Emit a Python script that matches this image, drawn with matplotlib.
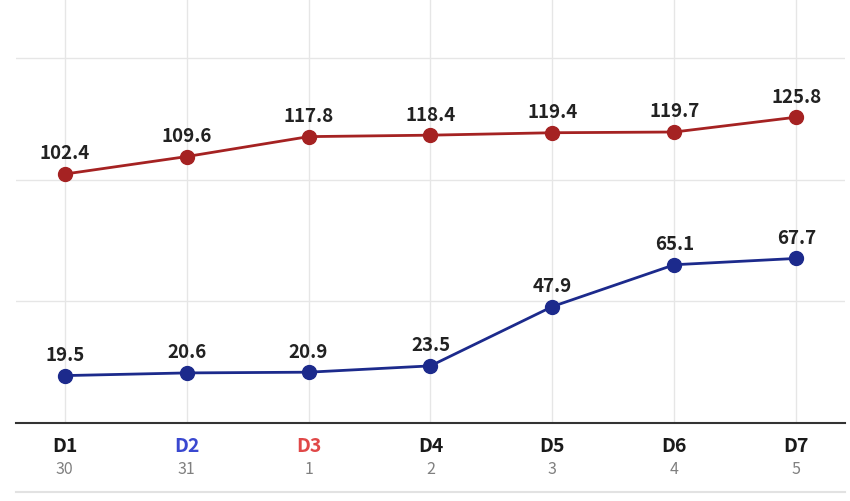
import matplotlib
matplotlib.use("Agg")
import matplotlib.pyplot as plt

days = ["D1", "D2", "D3", "D4", "D5", "D6", "D7"]
dates = ["30", "31", "1", "2", "3", "4", "5"]
day_colors = ["#1a1a1a", "#3a48d0", "#e04848", "#1a1a1a", "#1a1a1a", "#1a1a1a", "#1a1a1a"]
red_values = [102.4, 109.6, 117.8, 118.4, 119.4, 119.7, 125.8]
blue_values = [19.5, 20.6, 20.9, 23.5, 47.9, 65.1, 67.7]

plt.rcParams['font.family'] = ['Noto Sans CJK KR', 'DejaVu Sans']

fig = plt.figure(figsize=(8.5, 5.01), dpi=100)
ax = fig.add_axes([16 / 850, 1 - 423 / 501, 829 / 850, 423 / 501])

x = list(range(len(days)))

# lines
ax.plot(x, red_values, color="#a52222", lw=2.0, marker="o", ms=10, zorder=3)
ax.plot(x, blue_values, color="#1c2a8c", lw=2.0, marker="o", ms=10, zorder=3)

# value labels
for xi, v in zip(x, red_values):
    ax.annotate(f"{v:.1f}", (xi, v), xytext=(0, 14.5), textcoords="offset points",
                ha="center", va="center", fontsize=13.5, fontweight="bold", color="#222222")
for xi, v in zip(x, blue_values):
    ax.annotate(f"{v:.1f}", (xi, v), xytext=(0, 14.5), textcoords="offset points",
                ha="center", va="center", fontsize=13.5, fontweight="bold", color="#222222")

ax.set_xlim(-0.4, 6.4)
ax.set_ylim(0, 174)
ax.set_yticks([0, 50, 100, 150])
ax.set_yticklabels([])
ax.tick_params(axis="y", length=0)
ax.set_xticks(x)
ax.set_xticklabels(days, fontsize=14, fontweight="bold")
for lbl, c in zip(ax.get_xticklabels(), day_colors):
    lbl.set_color(c)
ax.tick_params(axis="x", length=0, pad=10)

# date sub-labels
for xi, d in zip(x, dates):
    ax.text(xi, -0.11, d, transform=ax.get_xaxis_transform(), ha="center", va="center",
            fontsize=11.5, color="#808080")

ax.grid(True, color="#e6e6e6", lw=1)
ax.set_axisbelow(True)
for s in ["top", "right", "left"]:
    ax.spines[s].set_visible(False)
ax.spines["bottom"].set_color("#333333")
ax.spines["bottom"].set_linewidth(1.5)

# bottom separator line
ax.plot([0, 1], [-0.163, -0.163], transform=ax.transAxes, color="#e2e2e2", lw=1.5, clip_on=False)

fig.savefig("out.png", dpi=100, facecolor="white")
